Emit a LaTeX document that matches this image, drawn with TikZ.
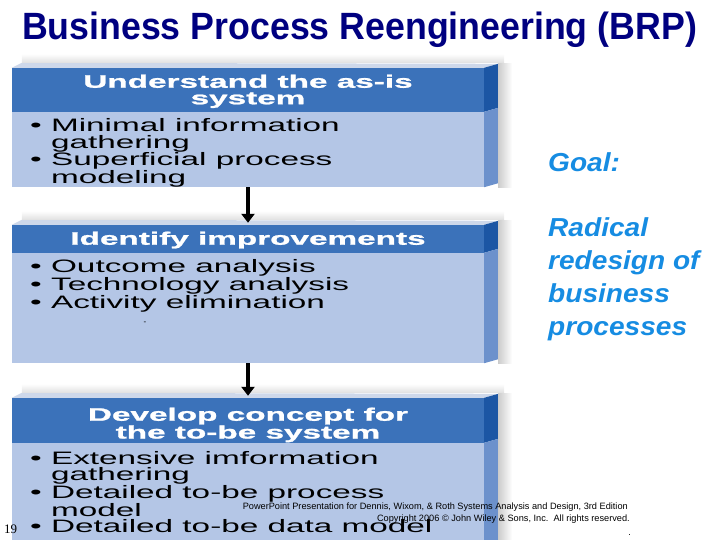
\documentclass[tikz,border=0pt]{standalone}
\usepackage{fontspec}
\setmainfont{Liberation Sans}
\newfontfamily\widefont[FakeStretch=1.85]{Liberation Sans}
\newfontfamily\headfont[FakeStretch=1.85,FakeBold=1.3]{Liberation Sans Bold}
\newfontfamily\goalfont[FakeStretch=1.08]{Liberation Sans}
\newfontfamily\titlefont[FakeStretch=0.94]{Liberation Sans}
\newfontfamily\pagefont{Liberation Serif}
\usetikzlibrary{arrows.meta}
\definecolor{headblue}{RGB}{59,114,186}
\definecolor{bodyblue}{RGB}{180,198,230}
\definecolor{sidedark}{RGB}{28,86,164}
\definecolor{sidelight}{RGB}{108,145,204}
\definecolor{topface}{RGB}{206,216,234}
\definecolor{goalblue}{RGB}{22,140,226}
\definecolor{titlenavy}{RGB}{0,0,128}
\newcommand{\bpt}{\textbullet\ }
\newcommand{\bind}{\phantom{\textbullet\ }}

\begin{document}
\begin{tikzpicture}[x=1pt,y=-1pt]
    % styles
    \tikzset{
      stepface/.style   = {rectangle, fill=bodyblue, draw=none, minimum width=472pt, inner sep=0pt},
      headtext/.style   = {anchor=north, inner sep=0pt, text=white, align=center,
                           font=\headfont\fontsize{18}{16.5}\selectfont},
      bullettext/.style = {anchor=north west, inner sep=0pt, align=left,
                           font=\widefont\fontsize{18}{#1}\selectfont},
      goaltext/.style   = {anchor=north west, inner sep=0pt, align=left, text=goalblue,
                           font=\goalfont\bfseries\itshape\fontsize{26}{32.8}\selectfont},
      titletext/.style  = {anchor=base, inner sep=0pt, text=titlenavy,
                           font=\titlefont\bfseries\fontsize{38}{40}\selectfont},
      footnote/.style   = {anchor=base east, inner sep=0pt, font=\fontsize{9.2}{11}\selectfont},
      flowarrow/.style  = {-{Triangle[length=9pt,width=13pt]}, line width=3.2pt, draw=black, shorten >=2pt}
    }
    \useasboundingbox (0,0) rectangle (720,540);

    % Title:
    \node[titletext] (title) at (359.5,40) {Business Process Reengineering (BRP)};

    % Step boxes (front faces):
    \node[stepface, minimum height=119pt] (box1) at (248,127.5) {};
    \node[stepface, minimum height=138pt] (box2) at (248,294) {};
    \node[stepface, minimum height=147pt] (box3) at (248,471.5) {};

    % Headers, top and side faces, shadows:
    \foreach \b/\h in {box1/44, box2/28, box3/45} {
      \fill[headblue] (\b.north west) rectangle ([shift={(0,\h)}]\b.north east);
      \fill[topface] (\b.north west) -- ++(10,-5) -- ([shift={(14,-4)}]\b.north east)
        -- (\b.north east) -- cycle;
      \fill[sidedark] (\b.north east) -- ++(14,-4) -- ++(0,\h) -- ++(-14,4) -- cycle;
      \fill[sidelight] ([shift={(0,\h)}]\b.north east) -- ++(14,-4)
        -- ([shift={(14,-4)}]\b.south east) -- (\b.south east) -- cycle;
      \shade[left color=black!20, right color=white]
        ([shift={(14,-4)}]\b.north east) rectangle ([shift={(28,0)}]\b.south east);
      \shade[top color=white, bottom color=black!12]
        ([shift={(10,-5)}]\b.north west) rectangle ([shift={(20,-14)}]\b.north east);
    }

    % Header texts:
    \node[headtext] (head1) at (248,74.5)  {Understand the as-is\\system};
    \node[headtext] (head2) at (248,231.5) {Identify improvements};
    \node[headtext] (head3) at (248,407.5) {Develop concept for\\the to-be system};

    % Bullet lists:
    \node[bullettext=16.3] (list1) at (30,118.5)
      {\bpt Minimal information\\\bind gathering\\\bpt Superficial process\\\bind modeling};
    \node[bullettext=15.5] (list2) at (30,259.5)
      {\bpt Outcome analysis\\\bpt Technology analysis\\\bpt Activity elimination};
    \node[inner sep=0pt, font=\fontsize{8}{8}\selectfont] (mark) at (145,323) {-};
    \node[bullettext=16.2] (list3) at (30,451.5)
      {\bpt Extensive imformation\\\bind gathering\\\bpt Detailed to-be process\\\bind model\\\bpt Detailed to-be data model};

    % Flow:
    \draw[flowarrow] (box1.south) -- (box2.north);
    \draw[flowarrow] (box2.south) -- (box3.north);

    % Goal:
    \node[goaltext] (goal) at (548,152) {Goal:\\[33pt]Radical\\redesign of\\business\\processes};

    % Footer:
    \node[footnote] (credit) at (628,509)
      {PowerPoint Presentation for Dennis, Wixom, \& Roth Systems Analysis and Design, 3rd Edition};
    \node[footnote] (copy) at (630,521)
      {Copyright 2006 \copyright{} John Wiley \& Sons, Inc.\ \ All rights reserved.};
    \node[footnote] (dot) at (631,535) {.};
    \node[anchor=base west, inner sep=0pt, font=\pagefont\fontsize{13}{13}\selectfont] (page) at (4,533) {19};
\end{tikzpicture}
\end{document}
